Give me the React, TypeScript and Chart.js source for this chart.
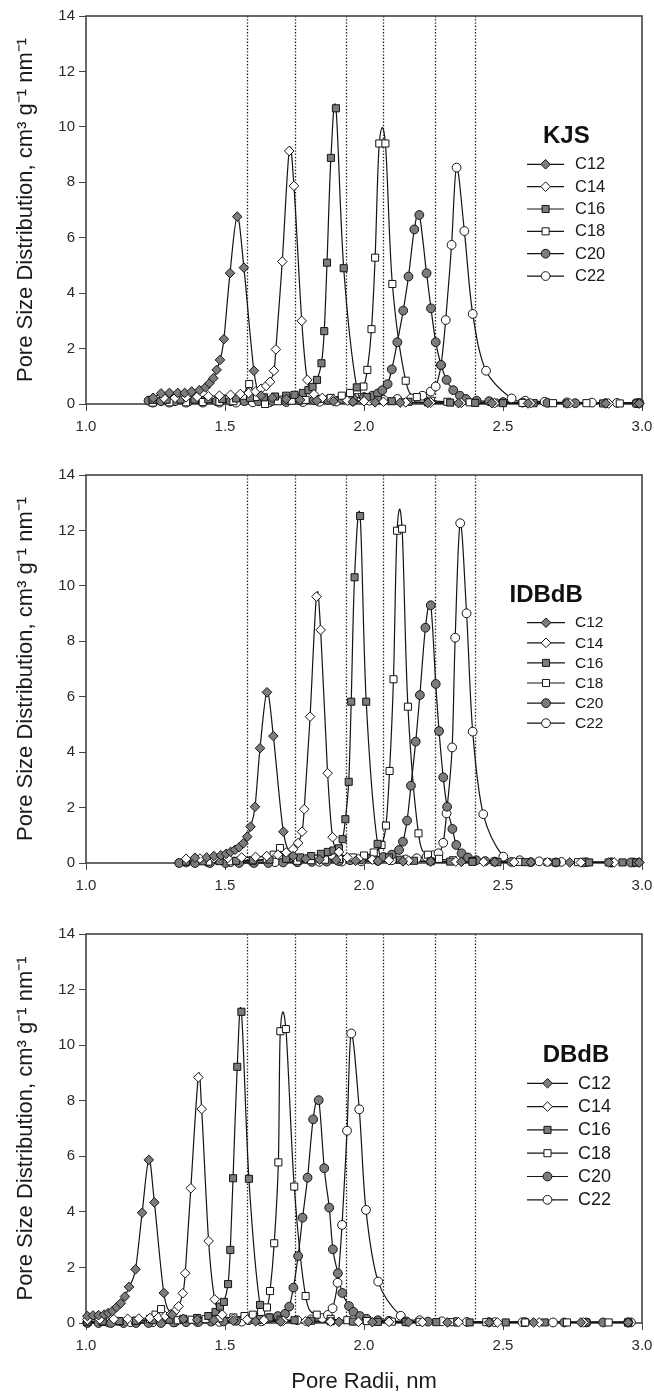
import React, { useEffect, useRef } from 'react';
import { Chart, registerables } from 'chart.js';

Chart.register(...registerables);

const FONT = '"Liberation Sans", Arial, Helvetica, sans-serif';

// ---------- labels / axes ----------
const SERIES_LABELS = ['C12', 'C14', 'C16', 'C18', 'C20', 'C22'];
const PANEL_TITLES = ['KJS', 'IDBdB', 'DBdB'];
const Y_TITLE = 'Pore Size Distribution, cm³ g⁻¹ nm⁻¹';
const X_TITLE = 'Pore Radii, nm';
const X_MIN = 1.0;
const X_MAX = 3.0;
const X_STEP = 0.5;
const Y_MIN = 0;
const Y_MAX = 14;
const Y_STEP = 2;
const DOTTED_X = [1.579, 1.753, 1.934, 2.069, 2.255, 2.398];

// ---------- KJS ----------
const kjsC12X = [1.242, 1.27, 1.30, 1.33, 1.355, 1.38, 1.408, 1.43, 1.444, 1.458, 1.47, 1.482, 1.496, 1.518, 1.544, 1.568, 1.604, 1.63, 1.67, 1.72, 1.77, 1.83, 1.89, 1.96, 2.04, 2.13, 2.23, 2.34, 2.46, 2.59, 2.73, 2.87, 2.99];
const kjsC12Y = [0.22, 0.38, 0.4, 0.4, 0.4, 0.45, 0.5, 0.6, 0.75, 0.93, 1.23, 1.59, 2.34, 4.72, 6.76, 4.92, 1.2, 0.3, 0.22, 0.18, 0.15, 0.12, 0.1, 0.08, 0.06, 0.05, 0.04, 0.03, 0.03, 0.02, 0.02, 0.02, 0.02];
const kjsC14X = [1.24, 1.28, 1.32, 1.36, 1.40, 1.44, 1.48, 1.52, 1.555, 1.585, 1.61, 1.63, 1.648, 1.662, 1.676, 1.683, 1.706, 1.731, 1.748, 1.776, 1.796, 1.82, 1.85, 1.89, 1.94, 2.00, 2.07, 2.15, 2.24, 2.35, 2.47, 2.60, 2.74, 2.88, 2.99];
const kjsC14Y = [0.2, 0.22, 0.22, 0.24, 0.26, 0.28, 0.3, 0.33, 0.36, 0.4, 0.45, 0.55, 0.65, 0.8, 1.2, 1.97, 5.14, 9.13, 7.87, 3.0, 0.87, 0.35, 0.22, 0.16, 0.12, 0.1, 0.08, 0.06, 0.05, 0.04, 0.03, 0.03, 0.03, 0.02, 0.02];
const kjsC16X = [1.24, 1.29, 1.34, 1.39, 1.44, 1.49, 1.54, 1.59, 1.64, 1.68, 1.72, 1.75, 1.78, 1.80, 1.815, 1.831, 1.847, 1.857, 1.867, 1.881, 1.899, 1.927, 1.974, 2.01, 2.05, 2.10, 2.16, 2.23, 2.31, 2.40, 2.50, 2.61, 2.73, 2.86, 2.98];
const kjsC16Y = [0.15, 0.15, 0.16, 0.16, 0.17, 0.18, 0.2, 0.22, 0.24, 0.27, 0.3, 0.33, 0.4, 0.5, 0.62, 0.87, 1.47, 2.63, 5.1, 8.88, 10.67, 4.9, 0.6, 0.25, 0.15, 0.1, 0.08, 0.06, 0.05, 0.04, 0.03, 0.03, 0.02, 0.02, 0.02];
const kjsC18X = [1.24, 1.30, 1.36, 1.42, 1.48, 1.53, 1.565, 1.587, 1.61, 1.644, 1.69, 1.74, 1.79, 1.84, 1.88, 1.92, 1.95, 1.975, 1.998, 2.012, 2.027, 2.04, 2.055, 2.077, 2.102, 2.15, 2.19, 2.24, 2.30, 2.38, 2.47, 2.57, 2.68, 2.80, 2.92, 2.99];
const kjsC18Y = [0.05, 0.06, 0.06, 0.07, 0.08, 0.1, 0.3, 0.72, 0.25, 0.0, 0.1, 0.12, 0.15, 0.18, 0.22, 0.3, 0.4, 0.5, 0.63, 1.23, 2.7, 5.28, 9.4, 9.4, 4.33, 0.84, 0.25, 0.12, 0.08, 0.06, 0.05, 0.04, 0.03, 0.03, 0.02, 0.02];
const kjsC20X = [1.225, 1.27, 1.32, 1.37, 1.42, 1.47, 1.52, 1.57, 1.62, 1.67, 1.72, 1.77, 1.82, 1.87, 1.92, 1.96, 2.00, 2.03, 2.05, 2.066, 2.085, 2.10, 2.12, 2.141, 2.16, 2.181, 2.199, 2.225, 2.241, 2.258, 2.277, 2.297, 2.321, 2.345, 2.367, 2.405, 2.45, 2.50, 2.57, 2.66, 2.76, 2.87, 2.98];
const kjsC20Y = [0.12, 0.1, 0.1, 0.1, 0.1, 0.1, 0.1, 0.1, 0.1, 0.11, 0.12, 0.13, 0.14, 0.15, 0.18, 0.2, 0.25, 0.3, 0.38, 0.5, 0.72, 1.25, 2.23, 3.37, 4.6, 6.3, 6.82, 4.72, 3.45, 2.23, 1.41, 0.87, 0.5, 0.3, 0.18, 0.12, 0.1, 0.07, 0.05, 0.04, 0.03, 0.03, 0.03];
const kjsC22X = [1.24, 1.30, 1.36, 1.42, 1.48, 1.54, 1.60, 1.66, 1.72, 1.78, 1.84, 1.90, 1.96, 2.02, 2.07, 2.12, 2.17, 2.21, 2.24, 2.258, 2.277, 2.294, 2.315, 2.333, 2.361, 2.391, 2.439, 2.531, 2.58, 2.65, 2.73, 2.82, 2.91, 2.99];
const kjsC22Y = [0.05, 0.05, 0.05, 0.05, 0.05, 0.05, 0.06, 0.06, 0.07, 0.07, 0.08, 0.09, 0.1, 0.12, 0.15, 0.18, 0.2, 0.3, 0.45, 0.63, 1.4, 3.03, 5.74, 8.53, 6.24, 3.25, 1.2, 0.2, 0.12, 0.08, 0.06, 0.05, 0.04, 0.04];

// ---------- IDBdB ----------
const idbC12X = [1.392, 1.434, 1.46, 1.485, 1.504, 1.52, 1.536, 1.551, 1.566, 1.58, 1.592, 1.608, 1.626, 1.651, 1.674, 1.71, 1.745, 1.79, 1.84, 1.90, 1.97, 2.05, 2.14, 2.24, 2.35, 2.47, 2.60, 2.74, 2.88, 2.99];
const idbC12Y = [0.19, 0.2, 0.25, 0.28, 0.33, 0.4, 0.48, 0.57, 0.71, 0.95, 1.31, 2.03, 4.14, 6.16, 4.58, 1.13, 0.25, 0.15, 0.12, 0.1, 0.08, 0.07, 0.06, 0.05, 0.04, 0.03, 0.03, 0.02, 0.02, 0.02];
const idbC14X = [1.36, 1.41, 1.46, 1.51, 1.56, 1.61, 1.65, 1.69, 1.72, 1.745, 1.763, 1.777, 1.785, 1.806, 1.829, 1.844, 1.869, 1.887, 1.91, 1.94, 1.98, 2.03, 2.09, 2.16, 2.24, 2.33, 2.43, 2.54, 2.66, 2.78, 2.90, 2.99];
const idbC14Y = [0.15, 0.16, 0.17, 0.18, 0.2, 0.22, 0.25, 0.3, 0.38, 0.5, 0.72, 1.13, 1.94, 5.28, 9.61, 8.41, 3.24, 0.93, 0.4, 0.2, 0.15, 0.12, 0.1, 0.08, 0.06, 0.05, 0.04, 0.03, 0.03, 0.02, 0.02, 0.02];
const idbC16X = [1.36, 1.42, 1.48, 1.54, 1.60, 1.66, 1.72, 1.77, 1.81, 1.845, 1.87, 1.89, 1.91, 1.923, 1.933, 1.945, 1.954, 1.966, 1.986, 2.008, 2.049, 2.09, 2.13, 2.18, 2.24, 2.31, 2.39, 2.48, 2.58, 2.69, 2.81, 2.93, 2.98];
const idbC16Y = [0.05, 0.06, 0.07, 0.08, 0.1, 0.12, 0.15, 0.2, 0.25, 0.33, 0.4, 0.45, 0.53, 0.86, 1.58, 2.93, 5.82, 10.31, 12.52, 5.82, 0.69, 0.2, 0.12, 0.08, 0.06, 0.05, 0.04, 0.03, 0.03, 0.02, 0.02, 0.02, 0.02];
const idbC18X = [1.36, 1.44, 1.52, 1.60, 1.65, 1.675, 1.698, 1.72, 1.76, 1.81, 1.86, 1.91, 1.96, 2.00, 2.035, 2.063, 2.079, 2.092, 2.106, 2.119, 2.137, 2.158, 2.196, 2.23, 2.27, 2.32, 2.39, 2.47, 2.56, 2.66, 2.77, 2.88, 2.98];
const idbC18Y = [0.04, 0.05, 0.06, 0.08, 0.15, 0.3, 0.54, 0.2, 0.08, 0.1, 0.12, 0.15, 0.2, 0.27, 0.38, 0.65, 1.35, 3.32, 6.63, 11.99, 12.06, 5.64, 1.07, 0.3, 0.15, 0.1, 0.07, 0.05, 0.04, 0.03, 0.03, 0.02, 0.02];
const idbC20X = [1.335, 1.392, 1.446, 1.502, 1.551, 1.604, 1.656, 1.709, 1.761, 1.812, 1.866, 1.91, 1.95, 1.99, 2.03, 2.07, 2.10, 2.126, 2.14, 2.155, 2.169, 2.186, 2.201, 2.221, 2.24, 2.258, 2.27, 2.285, 2.299, 2.318, 2.332, 2.351, 2.374, 2.404, 2.436, 2.47, 2.53, 2.60, 2.69, 2.79, 2.89, 2.96];
const idbC20Y = [0.0, 0.0, 0.0, 0.0, 0.0, 0.0, 0.0, 0.02, 0.03, 0.04, 0.05, 0.07, 0.1, 0.13, 0.17, 0.22, 0.3, 0.47, 0.77, 1.53, 2.79, 4.38, 6.06, 8.49, 9.3, 6.46, 4.76, 3.09, 2.03, 1.23, 0.65, 0.35, 0.2, 0.1, 0.07, 0.05, 0.04, 0.03, 0.02, 0.02, 0.02, 0.02];
const idbC22X = [1.36, 1.44, 1.52, 1.60, 1.68, 1.76, 1.84, 1.92, 1.99, 2.05, 2.10, 2.15, 2.19, 2.225, 2.25, 2.268, 2.285, 2.297, 2.317, 2.328, 2.346, 2.369, 2.391, 2.429, 2.501, 2.56, 2.63, 2.71, 2.80, 2.89, 2.97];
const idbC22Y = [0.02, 0.02, 0.03, 0.03, 0.03, 0.04, 0.04, 0.05, 0.06, 0.08, 0.1, 0.13, 0.17, 0.22, 0.28, 0.35, 0.73, 1.79, 4.17, 8.13, 12.26, 9.01, 4.74, 1.76, 0.23, 0.1, 0.06, 0.04, 0.03, 0.02, 0.02];

// ---------- DBdB ----------
const dbC12X = [1.005, 1.025, 1.045, 1.065, 1.08, 1.095, 1.11, 1.125, 1.14, 1.155, 1.178, 1.202, 1.226, 1.246, 1.28, 1.31, 1.35, 1.40, 1.46, 1.53, 1.61, 1.70, 1.80, 1.91, 2.03, 2.16, 2.30, 2.45, 2.61, 2.78, 2.95];
const dbC12Y = [0.25, 0.27, 0.28, 0.3, 0.36, 0.43, 0.57, 0.71, 0.95, 1.3, 1.93, 3.97, 5.87, 4.34, 1.08, 0.3, 0.15, 0.12, 0.1, 0.08, 0.06, 0.05, 0.04, 0.04, 0.03, 0.03, 0.02, 0.02, 0.02, 0.02, 0.02];
const dbC14X = [1.005, 1.05, 1.10, 1.15, 1.19, 1.23, 1.26, 1.285, 1.305, 1.32, 1.333, 1.348, 1.357, 1.377, 1.404, 1.416, 1.441, 1.463, 1.49, 1.53, 1.58, 1.64, 1.71, 1.79, 1.88, 1.98, 2.09, 2.21, 2.34, 2.48, 2.63, 2.79, 2.95];
const dbC14Y = [0.12, 0.13, 0.14, 0.15, 0.16, 0.18, 0.2, 0.25, 0.32, 0.42, 0.6, 1.07, 1.79, 4.85, 8.84, 7.7, 2.95, 0.85, 0.3, 0.15, 0.12, 0.1, 0.08, 0.06, 0.05, 0.04, 0.04, 0.03, 0.03, 0.02, 0.02, 0.02, 0.02];
const dbC16X = [1.005, 1.06, 1.12, 1.18, 1.24, 1.30, 1.35, 1.40, 1.44, 1.466, 1.482, 1.496, 1.511, 1.519, 1.529, 1.544, 1.559, 1.586, 1.626, 1.66, 1.70, 1.75, 1.81, 1.88, 1.96, 2.05, 2.15, 2.26, 2.38, 2.51, 2.65, 2.80, 2.95];
const dbC16Y = [0.05, 0.06, 0.07, 0.08, 0.1, 0.12, 0.15, 0.18, 0.25, 0.4, 0.59, 0.76, 1.4, 2.63, 5.21, 9.22, 11.2, 5.19, 0.65, 0.2, 0.12, 0.1, 0.08, 0.06, 0.05, 0.04, 0.03, 0.03, 0.02, 0.02, 0.02, 0.02, 0.02];
const dbC18X = [1.005, 1.06, 1.12, 1.18, 1.23, 1.25, 1.27, 1.29, 1.33, 1.38, 1.43, 1.48, 1.53, 1.57, 1.60, 1.63, 1.651, 1.662, 1.677, 1.692, 1.699, 1.719, 1.749, 1.79, 1.83, 1.88, 1.94, 2.01, 2.10, 2.20, 2.31, 2.44, 2.58, 2.73, 2.88, 2.95];
const dbC18Y = [0.03, 0.04, 0.05, 0.08, 0.15, 0.3, 0.5, 0.2, 0.1, 0.12, 0.14, 0.17, 0.2, 0.25, 0.3, 0.4, 0.56, 1.15, 2.87, 5.78, 10.5, 10.58, 4.91, 0.97, 0.3, 0.15, 0.1, 0.07, 0.05, 0.04, 0.03, 0.03, 0.02, 0.02, 0.02, 0.02];
const dbC20X = [1.005, 1.045, 1.09, 1.135, 1.18, 1.225, 1.27, 1.315, 1.36, 1.405, 1.45, 1.495, 1.54, 1.585, 1.625, 1.66, 1.69, 1.716, 1.731, 1.746, 1.763, 1.779, 1.797, 1.817, 1.837, 1.857, 1.875, 1.888, 1.906, 1.922, 1.946, 1.962, 1.986, 2.01, 2.05, 2.09, 2.15, 2.23, 2.33, 2.45, 2.58, 2.72, 2.86, 2.95];
const dbC20Y = [0, 0, 0, 0, 0, 0, 0, 0.02, 0.03, 0.04, 0.05, 0.06, 0.08, 0.1, 0.13, 0.18, 0.25, 0.33, 0.59, 1.27, 2.41, 3.79, 5.23, 7.33, 8.02, 5.57, 4.15, 2.65, 1.79, 1.08, 0.61, 0.4, 0.25, 0.15, 0.1, 0.08, 0.06, 0.05, 0.04, 0.03, 0.03, 0.02, 0.02, 0.02];
const dbC22X = [1.005, 1.08, 1.16, 1.24, 1.32, 1.40, 1.48, 1.56, 1.63, 1.70, 1.76, 1.81, 1.85, 1.87, 1.887, 1.905, 1.921, 1.939, 1.954, 1.983, 2.007, 2.051, 2.132, 2.20, 2.28, 2.37, 2.47, 2.57, 2.68, 2.80, 2.96];
const dbC22Y = [0.02, 0.02, 0.03, 0.03, 0.03, 0.04, 0.04, 0.05, 0.06, 0.08, 0.1, 0.13, 0.18, 0.29, 0.53, 1.45, 3.53, 6.92, 10.42, 7.69, 4.07, 1.49, 0.26, 0.1, 0.06, 0.04, 0.03, 0.03, 0.02, 0.02, 0.02];

// ---------- styles ----------
const POINT_STYLES = ['rectRot', 'rectRot', 'rect', 'rect', 'circle', 'circle'];
const POINT_FILLED = [true, false, true, false, true, false];
const POINT_RADII = [4.8, 4.8, 5.0, 5.0, 4.4, 4.4];
const GRAY = '#7c7c7c';
const INK = '#141414';

const PANELS = [
  {
    title: PANEL_TITLES[0],
    xs: [kjsC12X, kjsC14X, kjsC16X, kjsC18X, kjsC20X, kjsC22X],
    ys: [kjsC12Y, kjsC14Y, kjsC16Y, kjsC18Y, kjsC20Y, kjsC22Y],
    top: 0, height: 459, xAxisHeight: 55, showXTitle: false,
    legend: { titleX: 543, titleY: 143, rowY: 164.3, rowStep: 22.35, lineX0: 527, lineX1: 564, markerX: 545.6, textX: 575, fontSize: 16.5 },
  },
  {
    title: PANEL_TITLES[1],
    xs: [idbC12X, idbC14X, idbC16X, idbC18X, idbC20X, idbC22X],
    ys: [idbC12Y, idbC14Y, idbC16Y, idbC18Y, idbC20Y, idbC22Y],
    top: 459, height: 459, xAxisHeight: 55, showXTitle: false,
    legend: { titleX: 509.5, titleY: 143.3, rowY: 163.7, rowStep: 20.1, lineX0: 527, lineX1: 565, markerX: 546, textX: 575, fontSize: 15.5 },
  },
  {
    title: PANEL_TITLES[2],
    xs: [dbC12X, dbC14X, dbC16X, dbC18X, dbC20X, dbC22X],
    ys: [dbC12Y, dbC14Y, dbC16Y, dbC18Y, dbC20Y, dbC22Y],
    top: 918, height: 475, xAxisHeight: 70, showXTitle: true,
    legend: { titleX: 542.7, titleY: 143.7, rowY: 165.3, rowStep: 23.3, lineX0: 527, lineX1: 568, markerX: 547.5, textX: 578, fontSize: 18 },
  },
];

function drawMarker(ctx: CanvasRenderingContext2D, style: string, x: number, y: number, r: number, filled: boolean) {
  ctx.beginPath();
  if (style === 'rectRot') {
    ctx.moveTo(x - r, y);
    ctx.lineTo(x, y - r);
    ctx.lineTo(x + r, y);
    ctx.lineTo(x, y + r);
    ctx.closePath();
  } else if (style === 'rect') {
    const h = r * Math.SQRT1_2;
    ctx.rect(x - h, y - h, 2 * h, 2 * h);
  } else {
    ctx.arc(x, y, r, 0, Math.PI * 2);
  }
  ctx.fillStyle = filled ? GRAY : '#ffffff';
  ctx.fill();
  ctx.lineWidth = 1;
  ctx.strokeStyle = INK;
  ctx.stroke();
}

// frame and dotted reference lines, positioned through the x scale
const guidePlugin = {
  id: 'guides',
  beforeDatasetsDraw(chart: any) {
    const { ctx, chartArea: a, scales } = chart;
    ctx.save();
    ctx.strokeStyle = '#1e1e1e';
    ctx.lineWidth = 1.3;
    ctx.setLineDash([1.4, 1.8]);
    DOTTED_X.forEach((v) => {
      const px = Math.round(scales.x.getPixelForValue(v)) + 0.5;
      ctx.beginPath();
      ctx.moveTo(px, a.top);
      ctx.lineTo(px, a.bottom);
      ctx.stroke();
    });
    ctx.setLineDash([]);
    ctx.strokeStyle = '#444';
    ctx.lineWidth = 1.6;
    ctx.strokeRect(a.left, a.top, a.right - a.left, a.bottom - a.top);
    ctx.restore();
  },
};

// smooth (Catmull-Rom) connecting lines through the library-computed point positions
const splinePlugin = {
  id: 'splineLines',
  beforeDatasetsDraw(chart: any) {
    const ctx = chart.ctx;
    chart.data.datasets.forEach((ds: any, i: number) => {
      if (!ds.spline) return;
      const meta = chart.getDatasetMeta(i);
      const pts = meta.data.map((e: any) => ({ x: e.x, y: e.y }));
      if (pts.length < 2) return;
      ctx.save();
      ctx.beginPath();
      ctx.moveTo(pts[0].x, pts[0].y);
      for (let k = 0; k < pts.length - 1; k++) {
        const p0 = pts[k - 1] || pts[k];
        const p1 = pts[k];
        const p2 = pts[k + 1];
        const p3 = pts[k + 2] || p2;
        ctx.bezierCurveTo(
          p1.x + (p2.x - p0.x) / 6, p1.y + (p2.y - p0.y) / 6,
          p2.x - (p3.x - p1.x) / 6, p2.y - (p3.y - p1.y) / 6,
          p2.x, p2.y
        );
      }
      ctx.strokeStyle = INK;
      ctx.lineWidth = 1.2;
      ctx.lineJoin = 'round';
      ctx.stroke();
      ctx.restore();
    });
  },
};

// legend drawn inside the plot area
const insideLegendPlugin = {
  id: 'insideLegend',
  afterDatasetsDraw(chart: any, _args: any, opts: any) {
    const ctx = chart.ctx;
    ctx.save();
    ctx.fillStyle = '#111';
    ctx.textAlign = 'left';
    ctx.textBaseline = 'alphabetic';
    ctx.font = `bold 24px ${FONT}`;
    ctx.fillText(opts.title, opts.titleX, opts.titleY);
    ctx.font = `${opts.fontSize}px ${FONT}`;
    ctx.textBaseline = 'middle';
    chart.data.datasets.forEach((ds: any, k: number) => {
      if (!ds.spline) return;
      const y = opts.rowY + k * opts.rowStep;
      ctx.beginPath();
      ctx.moveTo(opts.lineX0, y);
      ctx.lineTo(opts.lineX1, y);
      ctx.strokeStyle = INK;
      ctx.lineWidth = 1.2;
      ctx.stroke();
      drawMarker(ctx, POINT_STYLES[k], opts.markerX, y, POINT_RADII[k], POINT_FILLED[k]);
      ctx.fillStyle = '#1a1a1a';
      ctx.fillText(ds.label, opts.textX, y + 0.5);
    });
    ctx.restore();
  },
};

function buildConfig(p: any): any {
  const datasets = SERIES_LABELS.map((label, k) => {
    const xs = p.xs[k];
    const ys = p.ys[k];
    const n = Math.min(xs.length, ys.length);
    const data = [];
    for (let j = 0; j < n; j++) data.push({ x: xs[j], y: ys[j] });
    return {
      label,
      data,
      spline: true,
      showLine: false,
      pointStyle: POINT_STYLES[k],
      pointRadius: POINT_RADII[k],
      pointHoverRadius: POINT_RADII[k],
      pointBackgroundColor: POINT_FILLED[k] ? GRAY : '#ffffff',
      pointBorderColor: INK,
      pointBorderWidth: 1,
      clip: false,
    };
  });
  const tickFont = { family: FONT, size: 15 };
  return {
    type: 'scatter',
    data: { datasets },
    plugins: [guidePlugin, splinePlugin, insideLegendPlugin],
    options: {
      animation: false,
      responsive: false,
      events: [],
      layout: { padding: { top: 16, right: 12, bottom: 0, left: 0 } },
      plugins: {
        legend: { display: false },
        tooltip: { enabled: false },
        insideLegend: { title: p.title, ...p.legend },
      },
      scales: {
        x: {
          type: 'linear',
          min: X_MIN,
          max: X_MAX,
          afterFit: (s: any) => {
            s.height = p.xAxisHeight;
            s.paddingLeft = 0;
            s.paddingRight = 0;
          },
          ticks: {
            stepSize: X_STEP,
            autoSkip: false,
            maxRotation: 0,
            padding: 7,
            color: '#2a2a2a',
            font: tickFont,
            callback: (v: any) => Number(v).toFixed(1),
          },
          grid: { display: true, drawOnChartArea: false, drawTicks: true, tickLength: 7, color: '#444', lineWidth: 1 },
          border: { display: false },
          title: {
            display: p.showXTitle,
            text: X_TITLE,
            color: '#1a1a1a',
            font: { family: FONT, size: 22, lineHeight: 1 },
            padding: { top: 0, bottom: 0 },
          },
        },
        y: {
          type: 'linear',
          min: Y_MIN,
          max: Y_MAX,
          afterFit: (s: any) => {
            s.width = 86;
            s.paddingTop = 0;
            s.paddingBottom = 0;
          },
          ticks: {
            stepSize: Y_STEP,
            padding: 4,
            color: '#2a2a2a',
            font: tickFont,
          },
          grid: { display: true, drawOnChartArea: false, drawTicks: true, tickLength: 7, color: '#444', lineWidth: 1 },
          border: { display: false },
          title: {
            display: true,
            text: Y_TITLE,
            color: '#1a1a1a',
            font: { family: FONT, size: 22, lineHeight: 1 },
            padding: { top: 15, bottom: 0 },
          },
        },
      },
    },
  };
}

function Panel({ p }: { p: any }) {
  const ref = useRef<HTMLCanvasElement | null>(null);
  useEffect(() => {
    if (!ref.current) return;
    const chart = new Chart(ref.current, buildConfig(p));
    return () => chart.destroy();
  }, [p]);
  return (
    <div style={{ position: 'absolute', left: 0, top: p.top, width: 654, height: p.height }}>
      <canvas ref={ref} width={654} height={p.height} style={{ display: 'block', width: 654, height: p.height }} />
    </div>
  );
}

export default function App() {
  return (
    <div style={{ position: 'absolute', left: 0, top: 0, width: 654, height: 1393, background: '#ffffff', overflow: 'hidden' }}>
      {PANELS.map((p, i) => (
        <Panel key={i} p={p} />
      ))}
    </div>
  );
}
